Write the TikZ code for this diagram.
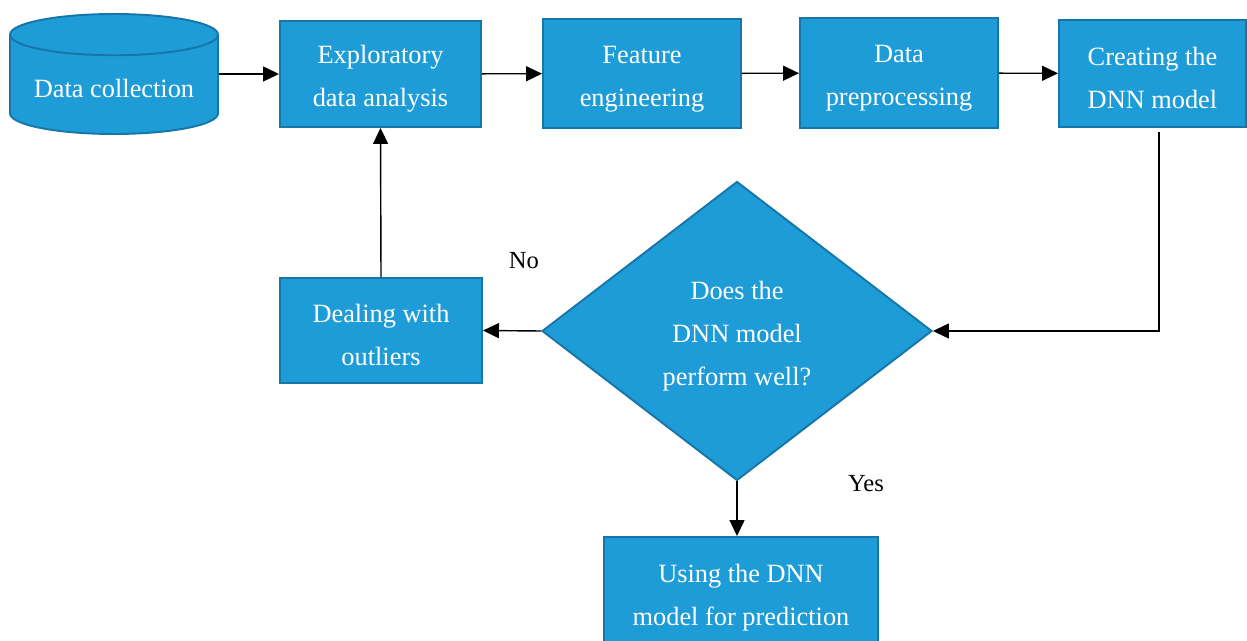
\documentclass[tikz,border=0pt]{standalone}
\usepackage{fontspec}
\setmainfont{Liberation Serif}
\usepackage{xcolor}
\usetikzlibrary{shapes.geometric, arrows.meta, positioning}

\definecolor{boxblue}{RGB}{30,156,216}
\definecolor{boxedge}{RGB}{22,118,168}
\newcommand{\tallstrut}{\rule{0pt}{0.56cm}}

\begin{document}
\begin{tikzpicture}[
    stepbox/.style={rectangle, draw=boxedge, line width=1.1pt, fill=boxblue, text=white, align=center,
        font=\fontsize{15}{24.5}\selectfont},
    store/.style={cylinder, shape border rotate=90, aspect=0.24, draw=boxedge, line width=1.1pt, fill=boxblue,
        text=white, font=\fontsize{15}{24.5}\selectfont},
    decision/.style={diamond, draw=boxedge, line width=1.1pt, fill=boxblue, text=white, align=center,
        font=\fontsize{15}{24.5}\selectfont},
    arrow/.style={-{Triangle[length=0.32cm, width=0.3cm]}, line width=0.8pt},
    answer/.style={font=\fontsize{14}{15}\selectfont}
]
\useasboundingbox (0,0) rectangle (24.94,-12.82);

% Top row
\node[store, minimum width=4.16cm, minimum height=2.4cm, anchor=shape center] (collect) at (2.28,-1.48) {Data collection};
\node[stepbox, minimum width=4.02cm, minimum height=2.12cm] (explore) at (7.61,-1.48) {\tallstrut Exploratory\\data analysis};
\node[stepbox, minimum width=3.96cm, minimum height=2.18cm] (feature) at (12.84,-1.47) {\tallstrut Feature\\engineering};
\node[stepbox, minimum width=3.96cm, minimum height=2.2cm] (prep) at (17.98,-1.46) {\tallstrut Data\\preprocessing};
\node[stepbox, minimum width=3.74cm, minimum height=2.14cm] (create) at (23.05,-1.47) {\tallstrut Creating the\\DNN model};

% Check and outcomes
\node[decision, minimum width=7.8cm, minimum height=5.98cm] (check) at (14.74,-6.62) {\tallstrut Does the\\DNN model\\perform well?};
\node[stepbox, minimum width=4.04cm, minimum height=2.1cm] (outlier) at (7.62,-6.61) {\tallstrut Dealing with\\outliers};
\node[stepbox, minimum width=5.48cm, minimum height=2.24cm] (predict) at (14.82,-11.86) {\tallstrut Using the DNN\\model for prediction};

\node[answer] (no) at (10.48,-5.22) {No};
\node[answer] (yes) at (17.32,-9.68) {Yes};

% Connections
\draw[arrow] (collect.east |- explore.west) -- (explore.west);
\draw[arrow] (explore) -- (feature);
\draw[arrow] (feature) -- (prep);
\draw[arrow] (prep) -- (create);
\draw[arrow, shorten <=0.08cm] ([xshift=0.13cm]create.south) |- (check.east);
\draw[arrow] (check.west) -- (outlier.east);
\draw[arrow] (outlier.north) -- (explore.south);
\draw[arrow] (check.south) -- (check.south |- predict.north);

\end{tikzpicture}
\end{document}
